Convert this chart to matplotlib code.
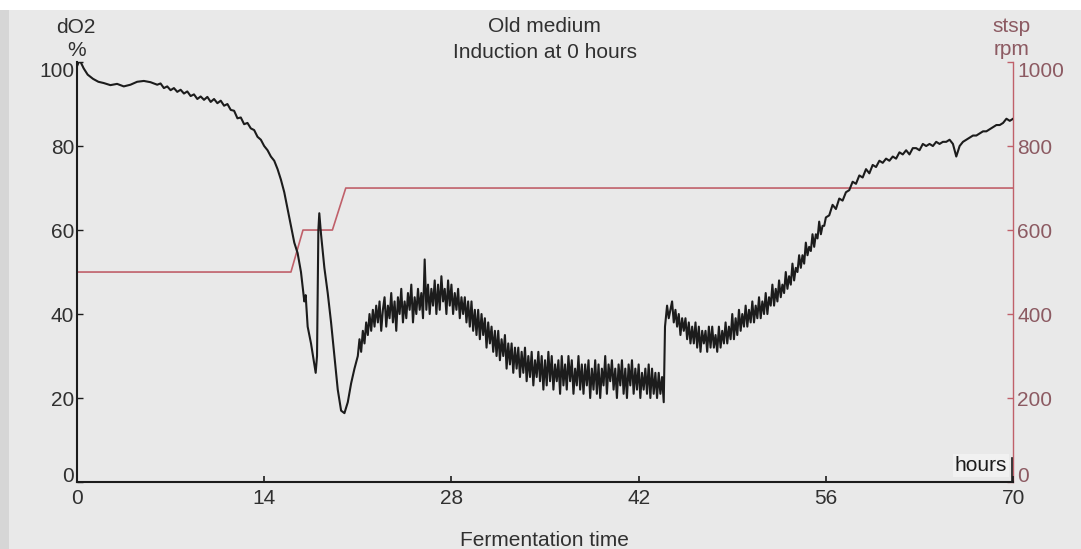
import numpy as np
import matplotlib.pyplot as plt
from matplotlib.patches import Rectangle

plt.rcParams['font.family'] = ['Liberation Sans', 'DejaVu Sans']

# dissolved oxygen (%) before and through the two dips, irregular sample times
early_hours = [
    0.0, 0.2, 0.5, 0.8, 1.2, 1.6, 2.0, 2.5, 3.0, 3.5, 4.0, 4.5, 5.0, 5.5, 6.0,
    6.25, 6.5, 6.75, 7.0, 7.25, 7.5, 7.75, 8.0, 8.25, 8.5, 8.75, 9.0, 9.25, 9.5,
    9.75, 10.0, 10.25, 10.5, 10.75, 11.0, 11.25, 11.5, 11.75, 12.0, 12.25, 12.5,
    12.75, 13.0, 13.25, 13.5, 13.75, 14.0, 14.25, 14.5, 14.75, 15.0, 15.25, 15.5,
    15.75, 16.0, 16.25, 16.5, 16.75, 17.0, 17.1, 17.25, 17.5, 17.7, 17.85, 17.95,
    18.05, 18.12, 18.25, 18.5, 18.75, 19.0, 19.25, 19.5, 19.75, 20.0, 20.25,
    20.5, 20.75,
]
early_do2 = [
    99, 100.5, 98.5, 97, 96, 95.3, 95, 94.5, 94.8, 94.2, 94.6, 95.3, 95.5, 95.2, 94.6,
    94.9, 93.8, 94.2, 93.3, 93.8, 92.9, 93.4, 92.5, 93.0, 91.9, 92.3, 91.2, 91.8, 91.0,
    91.7, 90.5, 91.2, 90.2, 90.8, 89.6, 90.0, 88.6, 88.4, 86.6, 86.8, 85.2,
    85.5, 84.2, 83.8, 82.2, 81.5, 80, 79, 77.5, 76.5, 74.5, 72, 69,
    65, 61, 57, 54.5, 50, 43, 44.5, 37, 33, 29, 26, 30,
    60, 64, 59, 51, 45, 38, 30, 22, 17, 16.4, 19,
    23.5, 27,
]

# noisy recovery and plateau, every 7.5 min from 21 h
mid_start, mid_step = 21.0, 0.125
mid_do2 = [
    30, 34, 31, 36, 33, 38, 35, 40, 36, 41, 37, 42, 38, 43, 36, 41,
    44, 37, 42, 39, 45, 38, 43, 36, 44, 40, 46, 38, 43, 39, 45, 41,
    47, 38, 44, 40, 46, 41, 45, 39, 53, 41, 47, 40, 46, 42, 48, 40,
    47, 41, 49, 43, 46, 40, 48, 42, 47, 40, 45, 41, 46, 39, 44, 40,
    44, 38, 43, 37, 43, 36, 41, 35, 41, 34, 40, 35, 39, 32, 38, 33,
    37, 31, 36, 30, 36, 29, 34, 30, 35, 27, 33, 28, 33, 26, 32, 27,
    32, 25, 31, 26, 32, 24, 30, 25, 31, 23, 29, 25, 31, 24, 30, 22,
    29, 23, 31, 24, 30, 22, 28, 24, 29, 21, 30, 23, 28, 22, 30, 24,
    29, 21, 27, 23, 30, 22, 28, 21, 28, 23, 29, 20, 27, 22, 29, 21,
    28, 20, 27, 23, 30, 21, 28, 24, 29, 22, 27, 20, 28, 23, 29, 21,
    27, 20, 28, 23, 29, 21, 27, 22, 28, 20, 26, 22, 27, 21, 28, 20,
    27, 21, 26, 20, 26, 21, 25, 19,
]

# step back up after the 44 h event
jump_hours = [43.93, 43.97]
jump_do2 = [30, 37]

late_start, late_step = 44.0, 0.125
late_do2 = [
    38, 42, 39, 41, 43, 38, 41, 37, 40, 35, 39, 36, 39, 34, 38, 33,
    37, 33, 38, 32, 37, 31, 36, 33, 36, 31, 37, 32, 37, 32, 35, 31,
    37, 32, 36, 33, 38, 33, 37, 34, 40, 34, 39, 35, 41, 36, 40, 37,
    42, 37, 41, 38, 43, 38, 42, 39, 44, 39, 43, 40, 45, 40, 44, 42,
    47, 42, 46, 43, 48, 44, 47, 45, 50, 46, 49, 47, 52, 48, 51, 50,
    54, 51, 54, 52, 57, 54, 56, 55, 59, 56, 59, 58, 62, 59, 61, 61,
    63,
]

tail_start, tail_step = 56.25, 0.25
tail_do2 = [
    63.5, 66, 65, 67.5, 67, 69, 69.5, 71.5, 71, 73, 72.5, 74.5, 73.5, 75.5,
    75, 76.5, 76, 77, 76.5, 77.5, 77, 78.5, 78, 79, 78, 79.5, 79.5, 79,
    80.5, 80, 80.5, 80, 81, 80.5, 81, 81, 81.5, 80.5, 77.5, 80, 81, 81.5,
    82, 82.5, 82.5, 83, 83.5, 83.5, 84, 84.5, 85, 85, 85.5, 86.5, 86, 86.5,
]

# stirrer set point (rpm)
stsp_hours = [0, 16.0, 16.9, 19.1, 20.1, 70]
stsp_rpm = [500, 500, 600, 600, 700, 700]

x_ticks = [0, 14, 28, 42, 56, 70]
do2_ticks = [0, 20, 40, 60, 80, 100]
rpm_ticks = [0, 200, 400, 600, 800, 1000]

hours = np.concatenate([
    early_hours,
    mid_start + mid_step * np.arange(len(mid_do2)),
    jump_hours,
    late_start + late_step * np.arange(len(late_do2)),
    tail_start + tail_step * np.arange(len(tail_do2)),
])
do2 = np.concatenate([early_do2, mid_do2, jump_do2, late_do2, tail_do2])

bg = '#e9e9e9'
red = '#c0606a'
red_text = '#8c5a62'
ink = '#1c1c1c'

fig = plt.figure(figsize=(10.81, 5.49), dpi=100, facecolor=bg)
fig.patches.append(Rectangle((0, 0.982), 1, 0.018, transform=fig.transFigure,
                             facecolor='white', edgecolor='none'))
fig.patches.append(Rectangle((0, 0), 0.008, 0.982, transform=fig.transFigure,
                             facecolor='#d6d6d6', edgecolor='none'))

ax = fig.add_axes([0.0712, 0.122, 0.866, 0.765])
ax2 = ax.twinx()
ax.set_zorder(2)
ax.patch.set_visible(False)
ax2.patch.set_visible(False)

ax2.plot(stsp_hours, stsp_rpm, color=red, lw=1.2)
ax.plot(hours, do2, color=ink, lw=1.5)

ax.set_xlim(0, 70)
ax.set_ylim(0, 100)
ax2.set_ylim(0, 1000)

for s in ['top', 'right']:
    ax.spines[s].set_visible(False)
for s in ['top', 'left', 'bottom']:
    ax2.spines[s].set_visible(False)
ax.spines['left'].set_color(ink)
ax.spines['bottom'].set_color(ink)
ax.spines['left'].set_linewidth(1.5)
ax.spines['bottom'].set_linewidth(1.5)
ax2.spines['right'].set_color(red)
ax2.spines['right'].set_linewidth(1.0)

ax.set_xticks(x_ticks)
ax.set_yticks(do2_ticks)
ax2.set_yticks(rpm_ticks)
ax.tick_params(axis='x', direction='in', length=4, width=1.2, pad=5,
               labelsize=15, labelcolor='#303030', color=ink)
ax.tick_params(axis='y', direction='in', length=4, width=1.0, pad=2,
               labelsize=15, labelcolor='#303030', color=ink)
ax2.tick_params(axis='y', direction='in', length=4, width=1.0, pad=3,
                labelsize=15, labelcolor=red_text, color=red)

# top labels sit below their tick, zero labels sit on theirs
for a in (ax, ax2):
    yt = a.yaxis.get_major_ticks()
    yt[0].label1.set_verticalalignment('baseline')
    yt[0].label2.set_verticalalignment('baseline')
    yt[-1].label1.set_verticalalignment('top')
    yt[-1].label2.set_verticalalignment('top')

ax.text(0.9935, 0.04, 'hours', transform=ax.transAxes, ha='right', va='center',
        fontsize=15, color=ink,
        bbox=dict(boxstyle='square,pad=0.1', facecolor='#f1f1f1', edgecolor='none'))
ax.plot([0.9989, 0.9989], [0, 0.057], transform=ax.transAxes, color=ink,
        lw=1.2, clip_on=False)

fig.text(0.0703, 0.949, 'dO2', ha='center', va='center', fontsize=15, color='#303030')
fig.text(0.0712, 0.908, '%', ha='center', va='center', fontsize=15, color='#303030')
fig.text(0.936, 0.951, 'stsp', ha='center', va='center', fontsize=15, color=red_text)
fig.text(0.936, 0.909, 'rpm', ha='center', va='center', fontsize=15, color=red_text)
fig.text(0.504, 0.951, 'Old medium', ha='center', va='center', fontsize=15, color='#303030')
fig.text(0.504, 0.905, 'Induction at 0 hours', ha='center', va='center', fontsize=15,
         color='#303030')
fig.text(0.504, 0.016, 'Fermentation time', ha='center', va='center', fontsize=15,
         color='#303030')

fig.savefig('out.png', dpi=100, facecolor=bg)
